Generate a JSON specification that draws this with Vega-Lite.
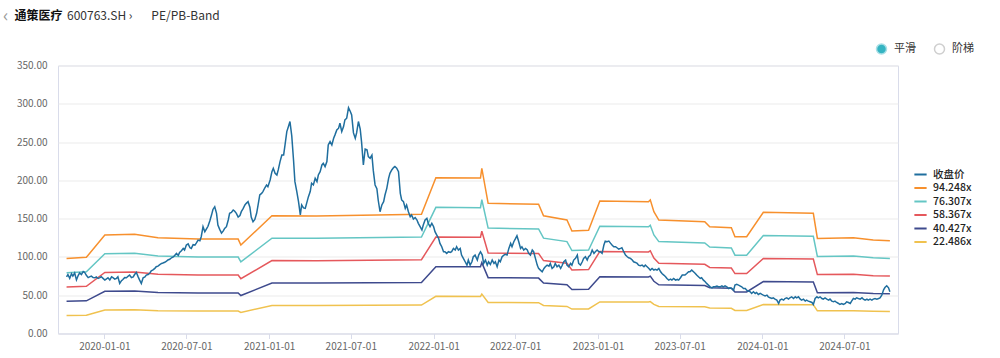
{
"$schema":"https://vega.github.io/schema/vega-lite/v6.json",
"width":840,"height":268,
"autosize":{"type":"none"},
"padding":{"left":58,"top":65.5,"right":102,"bottom":24.5},
"background":"white",
"config":{"font":"Noto Sans CJK SC","view":{"stroke":"#d9dcea","strokeWidth":1}},
"title":{"text":"‹","anchor":"start","frame":"group","dx":-55,"dy":26,"offset":0,"color":"#9a9a9a","fontSize":18,"fontWeight":"normal","baseline":"middle"},
"datasets":{
"bands":[
{"d":"2019-10-09","s":"94.248x","v":98.1},{"d":"2019-10-09","s":"76.307x","v":79.43},{"d":"2019-10-09","s":"58.367x","v":60.75},{"d":"2019-10-09","s":"40.427x","v":42.08},{"d":"2019-10-09","s":"22.486x","v":23.40},
{"d":"2019-11-22","s":"94.248x","v":99.5},{"d":"2019-11-22","s":"76.307x","v":80.56},{"d":"2019-11-22","s":"58.367x","v":61.62},{"d":"2019-11-22","s":"40.427x","v":42.68},{"d":"2019-11-22","s":"22.486x","v":23.74},
{"d":"2020-01-02","s":"94.248x","v":128.6},{"d":"2020-01-02","s":"76.307x","v":104.12},{"d":"2020-01-02","s":"58.367x","v":79.64},{"d":"2020-01-02","s":"40.427x","v":55.16},{"d":"2020-01-02","s":"22.486x","v":30.68},
{"d":"2020-03-08","s":"94.248x","v":129.5},{"d":"2020-03-08","s":"76.307x","v":104.85},{"d":"2020-03-08","s":"58.367x","v":80.20},{"d":"2020-03-08","s":"40.427x","v":55.55},{"d":"2020-03-08","s":"22.486x","v":30.90},
{"d":"2020-04-29","s":"94.248x","v":125.0},{"d":"2020-04-29","s":"76.307x","v":101.21},{"d":"2020-04-29","s":"58.367x","v":77.41},{"d":"2020-04-29","s":"40.427x","v":53.62},{"d":"2020-04-29","s":"22.486x","v":29.82},
{"d":"2020-07-27","s":"94.248x","v":123.5},{"d":"2020-07-27","s":"76.307x","v":99.99},{"d":"2020-07-27","s":"58.367x","v":76.48},{"d":"2020-07-27","s":"40.427x","v":52.97},{"d":"2020-07-27","s":"22.486x","v":29.46},
{"d":"2020-10-24","s":"94.248x","v":123.3},{"d":"2020-10-24","s":"76.307x","v":99.83},{"d":"2020-10-24","s":"58.367x","v":76.36},{"d":"2020-10-24","s":"40.427x","v":52.89},{"d":"2020-10-24","s":"22.486x","v":29.42},
{"d":"2020-10-30","s":"94.248x","v":115.5},{"d":"2020-10-30","s":"76.307x","v":93.51},{"d":"2020-10-30","s":"58.367x","v":71.53},{"d":"2020-10-30","s":"40.427x","v":49.54},{"d":"2020-10-30","s":"22.486x","v":27.56},
{"d":"2021-01-07","s":"94.248x","v":153.8},{"d":"2021-01-07","s":"76.307x","v":124.52},{"d":"2021-01-07","s":"58.367x","v":95.25},{"d":"2021-01-07","s":"40.427x","v":65.97},{"d":"2021-01-07","s":"22.486x","v":36.69},
{"d":"2021-04-16","s":"94.248x","v":153.5},{"d":"2021-04-16","s":"76.307x","v":124.28},{"d":"2021-04-16","s":"58.367x","v":95.06},{"d":"2021-04-16","s":"40.427x","v":65.84},{"d":"2021-04-16","s":"22.486x","v":36.62},
{"d":"2021-12-05","s":"94.248x","v":155.6},{"d":"2021-12-05","s":"76.307x","v":125.98},{"d":"2021-12-05","s":"58.367x","v":96.36},{"d":"2021-12-05","s":"40.427x","v":66.74},{"d":"2021-12-05","s":"22.486x","v":37.12},
{"d":"2022-01-06","s":"94.248x","v":203.5},{"d":"2022-01-06","s":"76.307x","v":164.76},{"d":"2022-01-06","s":"58.367x","v":126.03},{"d":"2022-01-06","s":"40.427x","v":87.29},{"d":"2022-01-06","s":"22.486x","v":48.55},
{"d":"2022-04-15","s":"94.248x","v":203.0},{"d":"2022-04-15","s":"76.307x","v":164.36},{"d":"2022-04-15","s":"58.367x","v":125.72},{"d":"2022-04-15","s":"40.427x","v":87.07},{"d":"2022-04-15","s":"22.486x","v":48.43},
{"d":"2022-04-18","s":"94.248x","v":215.8},{"d":"2022-04-18","s":"76.307x","v":174.72},{"d":"2022-04-18","s":"58.367x","v":133.64},{"d":"2022-04-18","s":"40.427x","v":92.57},{"d":"2022-04-18","s":"22.486x","v":51.49},
{"d":"2022-05-02","s":"94.248x","v":170.0},{"d":"2022-05-02","s":"76.307x","v":137.64},{"d":"2022-05-02","s":"58.367x","v":105.28},{"d":"2022-05-02","s":"40.427x","v":72.92},{"d":"2022-05-02","s":"22.486x","v":40.56},
{"d":"2022-08-22","s":"94.248x","v":168.7},{"d":"2022-08-22","s":"76.307x","v":136.59},{"d":"2022-08-22","s":"58.367x","v":104.47},{"d":"2022-08-22","s":"40.427x","v":72.36},{"d":"2022-08-22","s":"22.486x","v":40.25},
{"d":"2022-09-02","s":"94.248x","v":153.8},{"d":"2022-09-02","s":"76.307x","v":124.52},{"d":"2022-09-02","s":"58.367x","v":95.25},{"d":"2022-09-02","s":"40.427x","v":65.97},{"d":"2022-09-02","s":"22.486x","v":36.69},
{"d":"2022-10-24","s":"94.248x","v":148.2},{"d":"2022-10-24","s":"76.307x","v":119.99},{"d":"2022-10-24","s":"58.367x","v":91.78},{"d":"2022-10-24","s":"40.427x","v":63.57},{"d":"2022-10-24","s":"22.486x","v":35.36},
{"d":"2022-11-04","s":"94.248x","v":133.8},{"d":"2022-11-04","s":"76.307x","v":108.33},{"d":"2022-11-04","s":"58.367x","v":82.86},{"d":"2022-11-04","s":"40.427x","v":57.39},{"d":"2022-11-04","s":"22.486x","v":31.92},
{"d":"2022-12-11","s":"94.248x","v":134.7},{"d":"2022-12-11","s":"76.307x","v":109.06},{"d":"2022-12-11","s":"58.367x","v":83.42},{"d":"2022-12-11","s":"40.427x","v":57.78},{"d":"2022-12-11","s":"22.486x","v":32.14},
{"d":"2023-01-05","s":"94.248x","v":173.0},{"d":"2023-01-05","s":"76.307x","v":140.07},{"d":"2023-01-05","s":"58.367x","v":107.14},{"d":"2023-01-05","s":"40.427x","v":74.21},{"d":"2023-01-05","s":"22.486x","v":41.27},
{"d":"2023-04-23","s":"94.248x","v":172.1},{"d":"2023-04-23","s":"76.307x","v":139.34},{"d":"2023-04-23","s":"58.367x","v":106.58},{"d":"2023-04-23","s":"40.427x","v":73.82},{"d":"2023-04-23","s":"22.486x","v":41.06},
{"d":"2023-04-27","s":"94.248x","v":174.5},{"d":"2023-04-27","s":"76.307x","v":141.28},{"d":"2023-04-27","s":"58.367x","v":108.07},{"d":"2023-04-27","s":"40.427x","v":74.85},{"d":"2023-04-27","s":"22.486x","v":41.63},
{"d":"2023-05-05","s":"94.248x","v":159.0},{"d":"2023-05-05","s":"76.307x","v":128.73},{"d":"2023-05-05","s":"58.367x","v":98.47},{"d":"2023-05-05","s":"40.427x","v":68.20},{"d":"2023-05-05","s":"22.486x","v":37.93},
{"d":"2023-05-16","s":"94.248x","v":148.2},{"d":"2023-05-16","s":"76.307x","v":119.99},{"d":"2023-05-16","s":"58.367x","v":91.78},{"d":"2023-05-16","s":"40.427x","v":63.57},{"d":"2023-05-16","s":"22.486x","v":35.36},
{"d":"2023-08-26","s":"94.248x","v":146.0},{"d":"2023-08-26","s":"76.307x","v":118.21},{"d":"2023-08-26","s":"58.367x","v":90.42},{"d":"2023-08-26","s":"40.427x","v":62.63},{"d":"2023-08-26","s":"22.486x","v":34.83},
{"d":"2023-09-06","s":"94.248x","v":139.4},{"d":"2023-09-06","s":"76.307x","v":112.86},{"d":"2023-09-06","s":"58.367x","v":86.33},{"d":"2023-09-06","s":"40.427x","v":59.79},{"d":"2023-09-06","s":"22.486x","v":33.26},
{"d":"2023-10-24","s":"94.248x","v":138.1},{"d":"2023-10-24","s":"76.307x","v":111.81},{"d":"2023-10-24","s":"58.367x","v":85.52},{"d":"2023-10-24","s":"40.427x","v":59.24},{"d":"2023-10-24","s":"22.486x","v":32.95},
{"d":"2023-11-01","s":"94.248x","v":126.4},{"d":"2023-11-01","s":"76.307x","v":102.34},{"d":"2023-11-01","s":"58.367x","v":78.28},{"d":"2023-11-01","s":"40.427x","v":54.22},{"d":"2023-11-01","s":"22.486x","v":30.16},
{"d":"2023-11-27","s":"94.248x","v":126.4},{"d":"2023-11-27","s":"76.307x","v":102.34},{"d":"2023-11-27","s":"58.367x","v":78.28},{"d":"2023-11-27","s":"40.427x","v":54.22},{"d":"2023-11-27","s":"22.486x","v":30.16},
{"d":"2024-01-03","s":"94.248x","v":158.2},{"d":"2024-01-03","s":"76.307x","v":128.09},{"d":"2024-01-03","s":"58.367x","v":97.97},{"d":"2024-01-03","s":"40.427x","v":67.86},{"d":"2024-01-03","s":"22.486x","v":37.74},
{"d":"2024-04-23","s":"94.248x","v":156.9},{"d":"2024-04-23","s":"76.307x","v":127.03},{"d":"2024-04-23","s":"58.367x","v":97.17},{"d":"2024-04-23","s":"40.427x","v":67.30},{"d":"2024-04-23","s":"22.486x","v":37.43},
{"d":"2024-05-02","s":"94.248x","v":124.2},{"d":"2024-05-02","s":"76.307x","v":100.56},{"d":"2024-05-02","s":"58.367x","v":76.92},{"d":"2024-05-02","s":"40.427x","v":53.27},{"d":"2024-05-02","s":"22.486x","v":29.63},
{"d":"2024-07-21","s":"94.248x","v":125.0},{"d":"2024-07-21","s":"76.307x","v":101.21},{"d":"2024-07-21","s":"58.367x","v":77.41},{"d":"2024-07-21","s":"40.427x","v":53.62},{"d":"2024-07-21","s":"22.486x","v":29.82},
{"d":"2024-09-03","s":"94.248x","v":122.0},{"d":"2024-09-03","s":"76.307x","v":98.78},{"d":"2024-09-03","s":"58.367x","v":75.55},{"d":"2024-09-03","s":"40.427x","v":52.33},{"d":"2024-09-03","s":"22.486x","v":29.11},
{"d":"2024-10-10","s":"94.248x","v":121.1},{"d":"2024-10-10","s":"76.307x","v":98.05},{"d":"2024-10-10","s":"58.367x","v":75.00},{"d":"2024-10-10","s":"40.427x","v":51.94},{"d":"2024-10-10","s":"22.486x","v":28.89}
],
"price":[
{"d":"2019-10-09","v":74},{"d":"2019-10-12","v":77},{"d":"2019-10-16","v":72},{"d":"2019-10-20","v":78},{"d":"2019-10-23","v":75},{"d":"2019-10-27","v":79},{"d":"2019-10-31","v":70},{"d":"2019-11-04","v":76},{"d":"2019-11-07","v":79},{"d":"2019-11-11","v":77},{"d":"2019-11-15","v":81},{"d":"2019-11-18","v":80},{"d":"2019-11-22","v":76},{"d":"2019-11-26","v":73},{"d":"2019-11-29","v":74},{"d":"2019-12-03","v":75},{"d":"2019-12-07","v":73},{"d":"2019-12-11","v":72.8},{"d":"2019-12-14","v":74},{"d":"2019-12-18","v":71.9},{"d":"2019-12-22","v":73},{"d":"2019-12-25","v":74.1},{"d":"2019-12-29","v":72},
{"d":"2020-01-02","v":69.7},{"d":"2020-01-05","v":71},{"d":"2020-01-09","v":72.8},{"d":"2020-01-13","v":70},{"d":"2020-01-17","v":74},{"d":"2020-01-20","v":73},{"d":"2020-01-24","v":71},{"d":"2020-01-28","v":72},{"d":"2020-01-31","v":74},{"d":"2020-02-04","v":65.4},{"d":"2020-02-08","v":69},{"d":"2020-02-11","v":70.6},{"d":"2020-02-15","v":73},{"d":"2020-02-19","v":72.8},{"d":"2020-02-23","v":75},{"d":"2020-02-26","v":76.3},{"d":"2020-03-01","v":73},{"d":"2020-03-05","v":74},{"d":"2020-03-08","v":77},{"d":"2020-03-12","v":79.8},{"d":"2020-03-16","v":74},{"d":"2020-03-19","v":70},{"d":"2020-03-23","v":65.4},{"d":"2020-03-27","v":72.8},{"d":"2020-03-31","v":74},{"d":"2020-04-03","v":76.3},{"d":"2020-04-07","v":77},{"d":"2020-04-11","v":79},{"d":"2020-04-14","v":81.9},{"d":"2020-04-18","v":83},{"d":"2020-04-22","v":85},{"d":"2020-04-25","v":87.2},{"d":"2020-04-29","v":88},{"d":"2020-05-03","v":90},{"d":"2020-05-07","v":91.5},{"d":"2020-05-10","v":92},{"d":"2020-05-14","v":93},{"d":"2020-05-18","v":94.6},{"d":"2020-05-21","v":96},{"d":"2020-05-25","v":97},{"d":"2020-05-29","v":98.9},{"d":"2020-06-02","v":100},{"d":"2020-06-05","v":102},{"d":"2020-06-09","v":104.6},{"d":"2020-06-13","v":102},{"d":"2020-06-16","v":105.9},{"d":"2020-06-20","v":108},{"d":"2020-06-24","v":111.1},{"d":"2020-06-27","v":109},{"d":"2020-07-01","v":115.5},{"d":"2020-07-05","v":117},{"d":"2020-07-09","v":112},{"d":"2020-07-12","v":111.1},{"d":"2020-07-16","v":116},{"d":"2020-07-20","v":115.5},{"d":"2020-07-23","v":118},{"d":"2020-07-27","v":122},{"d":"2020-07-31","v":121},{"d":"2020-08-03","v":126.4},{"d":"2020-08-07","v":139.5},{"d":"2020-08-11","v":133},{"d":"2020-08-15","v":137},{"d":"2020-08-18","v":140},{"d":"2020-08-22","v":146.9},{"d":"2020-08-26","v":155},{"d":"2020-08-29","v":162},{"d":"2020-09-02","v":165.6},{"d":"2020-09-06","v":156.9},{"d":"2020-09-09","v":141.7},{"d":"2020-09-13","v":136},{"d":"2020-09-17","v":131},{"d":"2020-09-21","v":134},{"d":"2020-09-24","v":137.3},{"d":"2020-09-28","v":139.5},{"d":"2020-10-02","v":148.2},{"d":"2020-10-05","v":156.9},{"d":"2020-10-09","v":158},{"d":"2020-10-13","v":161.3},{"d":"2020-10-16","v":160},{"d":"2020-10-20","v":156.9},{"d":"2020-10-24","v":152},{"d":"2020-10-28","v":154},{"d":"2020-10-31","v":159.1},{"d":"2020-11-04","v":163},{"d":"2020-11-08","v":167.8},{"d":"2020-11-11","v":170},{"d":"2020-11-15","v":172.2},{"d":"2020-11-19","v":165},{"d":"2020-11-22","v":152},{"d":"2020-11-26","v":146},{"d":"2020-11-30","v":149},{"d":"2020-12-04","v":157},{"d":"2020-12-07","v":167},{"d":"2020-12-11","v":180.9},{"d":"2020-12-15","v":183},{"d":"2020-12-18","v":185.3},{"d":"2020-12-22","v":190},{"d":"2020-12-26","v":194},{"d":"2020-12-29","v":191.8},
{"d":"2021-01-03","v":200.5},{"d":"2021-01-07","v":211.4},{"d":"2021-01-10","v":215.8},{"d":"2021-01-14","v":209.2},{"d":"2021-01-18","v":207},{"d":"2021-01-21","v":213.6},{"d":"2021-01-25","v":224.5},{"d":"2021-01-29","v":233.2},{"d":"2021-02-02","v":233.2},{"d":"2021-02-05","v":246},{"d":"2021-02-09","v":263.7},{"d":"2021-02-13","v":271},{"d":"2021-02-16","v":276.8},{"d":"2021-02-20","v":258},{"d":"2021-02-24","v":226},{"d":"2021-02-27","v":198.3},{"d":"2021-03-03","v":186},{"d":"2021-03-07","v":172.2},{"d":"2021-03-11","v":155},{"d":"2021-03-14","v":167.8},{"d":"2021-03-18","v":164},{"d":"2021-03-22","v":163.5},{"d":"2021-03-25","v":170},{"d":"2021-03-29","v":178.7},{"d":"2021-04-02","v":185.3},{"d":"2021-04-05","v":196.2},{"d":"2021-04-09","v":194},{"d":"2021-04-13","v":202.7},{"d":"2021-04-17","v":198.3},{"d":"2021-04-20","v":207},{"d":"2021-04-24","v":211.4},{"d":"2021-04-28","v":220.1},{"d":"2021-05-01","v":222.3},{"d":"2021-05-05","v":218},{"d":"2021-05-09","v":224.5},{"d":"2021-05-12","v":246.3},{"d":"2021-05-16","v":250.7},{"d":"2021-05-20","v":246.3},{"d":"2021-05-24","v":255},{"d":"2021-05-27","v":259.4},{"d":"2021-05-31","v":265.9},{"d":"2021-06-04","v":268.1},{"d":"2021-06-07","v":274.6},{"d":"2021-06-11","v":263.7},{"d":"2021-06-15","v":270.3},{"d":"2021-06-18","v":279},{"d":"2021-06-22","v":281.2},{"d":"2021-06-26","v":295},{"d":"2021-06-30","v":290},{"d":"2021-07-03","v":285.5},{"d":"2021-07-07","v":262},{"d":"2021-07-11","v":255},{"d":"2021-07-14","v":262},{"d":"2021-07-18","v":276.8},{"d":"2021-07-22","v":267},{"d":"2021-07-25","v":250},{"d":"2021-07-29","v":220.1},{"d":"2021-08-02","v":241},{"d":"2021-08-06","v":240},{"d":"2021-08-09","v":231},{"d":"2021-08-13","v":228.9},{"d":"2021-08-17","v":233},{"d":"2021-08-20","v":213},{"d":"2021-08-24","v":194},{"d":"2021-08-28","v":189},{"d":"2021-08-31","v":174},{"d":"2021-09-04","v":159},{"d":"2021-09-08","v":167.8},{"d":"2021-09-12","v":172.2},{"d":"2021-09-15","v":180.9},{"d":"2021-09-19","v":189.6},{"d":"2021-09-23","v":202.7},{"d":"2021-09-26","v":209.2},{"d":"2021-09-30","v":213.6},{"d":"2021-10-04","v":216.7},{"d":"2021-10-07","v":218},{"d":"2021-10-11","v":215.8},{"d":"2021-10-15","v":211.4},{"d":"2021-10-19","v":183},{"d":"2021-10-22","v":174.4},{"d":"2021-10-26","v":172.2},{"d":"2021-10-30","v":163.5},{"d":"2021-11-02","v":167.8},{"d":"2021-11-06","v":159.1},{"d":"2021-11-10","v":152.6},{"d":"2021-11-13","v":154.8},{"d":"2021-11-17","v":149.5},{"d":"2021-11-21","v":151.3},{"d":"2021-11-25","v":148.2},{"d":"2021-11-28","v":143.9},{"d":"2021-12-02","v":139.5},{"d":"2021-12-06","v":135.1},{"d":"2021-12-09","v":141.7},{"d":"2021-12-13","v":148.2},{"d":"2021-12-17","v":150.4},{"d":"2021-12-20","v":143.9},{"d":"2021-12-24","v":139.5},{"d":"2021-12-28","v":143.9},
{"d":"2022-01-01","v":139.5},{"d":"2022-01-04","v":133},{"d":"2022-01-08","v":128.6},{"d":"2022-01-12","v":124.2},{"d":"2022-01-15","v":117.7},{"d":"2022-01-19","v":113.3},{"d":"2022-01-23","v":106.8},{"d":"2022-01-26","v":106.8},{"d":"2022-01-30","v":104.6},{"d":"2022-02-03","v":106.8},{"d":"2022-02-07","v":105.9},{"d":"2022-02-10","v":106.8},{"d":"2022-02-14","v":111.1},{"d":"2022-02-18","v":109},{"d":"2022-02-21","v":113.3},{"d":"2022-02-25","v":109},{"d":"2022-03-01","v":111.1},{"d":"2022-03-04","v":102.4},{"d":"2022-03-08","v":98.1},{"d":"2022-03-12","v":93.7},{"d":"2022-03-16","v":89.3},{"d":"2022-03-19","v":95.9},{"d":"2022-03-23","v":89.3},{"d":"2022-03-27","v":93.7},{"d":"2022-03-30","v":100.2},{"d":"2022-04-03","v":102.4},{"d":"2022-04-08","v":95.9},{"d":"2022-04-11","v":102.4},{"d":"2022-04-15","v":106.8},{"d":"2022-04-19","v":102.4},{"d":"2022-04-22","v":91.5},{"d":"2022-04-26","v":95.9},{"d":"2022-04-30","v":89.3},{"d":"2022-05-03","v":93.7},{"d":"2022-05-07","v":90.2},{"d":"2022-05-11","v":95.9},{"d":"2022-05-15","v":91.5},{"d":"2022-05-18","v":93.7},{"d":"2022-05-22","v":87.2},{"d":"2022-05-26","v":95.9},{"d":"2022-05-29","v":93.7},{"d":"2022-06-02","v":100.2},{"d":"2022-06-06","v":102.4},{"d":"2022-06-09","v":103.3},{"d":"2022-06-13","v":102.4},{"d":"2022-06-17","v":111.1},{"d":"2022-06-21","v":117.7},{"d":"2022-06-24","v":113.3},{"d":"2022-06-28","v":119.9},{"d":"2022-07-02","v":124.2},{"d":"2022-07-05","v":127.7},{"d":"2022-07-09","v":119.9},{"d":"2022-07-13","v":111.1},{"d":"2022-07-16","v":113.3},{"d":"2022-07-20","v":109},{"d":"2022-07-24","v":111.1},{"d":"2022-07-28","v":109},{"d":"2022-07-31","v":104.6},{"d":"2022-08-04","v":102.4},{"d":"2022-08-08","v":109},{"d":"2022-08-11","v":106.8},{"d":"2022-08-15","v":98.1},{"d":"2022-08-19","v":89.3},{"d":"2022-08-22","v":85},{"d":"2022-08-26","v":82.8},{"d":"2022-08-30","v":80.6},{"d":"2022-09-03","v":85},{"d":"2022-09-06","v":87.2},{"d":"2022-09-10","v":89.3},{"d":"2022-09-14","v":88},{"d":"2022-09-17","v":91.5},{"d":"2022-09-21","v":85},{"d":"2022-09-25","v":87.2},{"d":"2022-09-28","v":91.5},{"d":"2022-10-02","v":87.2},{"d":"2022-10-06","v":89.3},{"d":"2022-10-10","v":85},{"d":"2022-10-13","v":88.5},{"d":"2022-10-17","v":93.7},{"d":"2022-10-21","v":95.9},{"d":"2022-10-24","v":89.3},{"d":"2022-10-28","v":87.2},{"d":"2022-11-01","v":91.5},{"d":"2022-11-04","v":89.3},{"d":"2022-11-08","v":95.9},{"d":"2022-11-12","v":98.1},{"d":"2022-11-16","v":102.4},{"d":"2022-11-19","v":91.5},{"d":"2022-11-23","v":89.3},{"d":"2022-11-27","v":93.7},{"d":"2022-11-30","v":98.1},{"d":"2022-12-04","v":100.2},{"d":"2022-12-08","v":95.9},{"d":"2022-12-11","v":100.2},{"d":"2022-12-15","v":102.4},{"d":"2022-12-19","v":109},{"d":"2022-12-23","v":104.6},{"d":"2022-12-26","v":106.8},{"d":"2022-12-30","v":109},
{"d":"2023-01-03","v":106.8},{"d":"2023-01-06","v":106.8},{"d":"2023-01-10","v":104.6},{"d":"2023-01-14","v":115.5},{"d":"2023-01-17","v":120.7},{"d":"2023-01-21","v":119.9},{"d":"2023-01-25","v":120.7},{"d":"2023-01-29","v":117.7},{"d":"2023-02-01","v":115.5},{"d":"2023-02-05","v":113.3},{"d":"2023-02-09","v":113.3},{"d":"2023-02-12","v":112},{"d":"2023-02-16","v":110.3},{"d":"2023-02-20","v":111.1},{"d":"2023-02-23","v":112},{"d":"2023-02-27","v":106.8},{"d":"2023-03-03","v":102.4},{"d":"2023-03-07","v":100.2},{"d":"2023-03-10","v":98.9},{"d":"2023-03-14","v":98.1},{"d":"2023-03-18","v":95.9},{"d":"2023-03-21","v":93.7},{"d":"2023-03-25","v":92.8},{"d":"2023-03-29","v":91.5},{"d":"2023-04-01","v":89.3},{"d":"2023-04-05","v":88.5},{"d":"2023-04-09","v":89.3},{"d":"2023-04-13","v":87.2},{"d":"2023-04-16","v":89.3},{"d":"2023-04-20","v":87.2},{"d":"2023-04-24","v":85},{"d":"2023-04-27","v":82.8},{"d":"2023-05-01","v":85},{"d":"2023-05-05","v":82.8},{"d":"2023-05-08","v":83.7},{"d":"2023-05-12","v":82.8},{"d":"2023-05-16","v":85},{"d":"2023-05-20","v":80.6},{"d":"2023-05-23","v":78.4},{"d":"2023-05-27","v":76.3},{"d":"2023-05-31","v":74.1},{"d":"2023-06-03","v":71.9},{"d":"2023-06-07","v":69.7},{"d":"2023-06-11","v":71},{"d":"2023-06-14","v":69.7},{"d":"2023-06-18","v":71.9},{"d":"2023-06-22","v":69.7},{"d":"2023-06-26","v":70.6},{"d":"2023-06-29","v":69.7},{"d":"2023-07-03","v":72.8},{"d":"2023-07-07","v":76.3},{"d":"2023-07-10","v":76.3},{"d":"2023-07-13","v":76.3},{"d":"2023-07-17","v":78.4},{"d":"2023-07-21","v":80.6},{"d":"2023-07-24","v":80.6},{"d":"2023-07-28","v":82.8},{"d":"2023-08-01","v":80.6},{"d":"2023-08-05","v":78.4},{"d":"2023-08-08","v":76.3},{"d":"2023-08-12","v":74.1},{"d":"2023-08-16","v":71.9},{"d":"2023-08-19","v":72.8},{"d":"2023-08-23","v":69.7},{"d":"2023-08-27","v":67.5},{"d":"2023-08-30","v":65.4},{"d":"2023-09-03","v":63.2},{"d":"2023-09-07","v":61},{"d":"2023-09-11","v":59.7},{"d":"2023-09-14","v":61},{"d":"2023-09-18","v":61},{"d":"2023-09-22","v":61.9},{"d":"2023-09-25","v":61},{"d":"2023-09-29","v":61},{"d":"2023-10-03","v":62.3},{"d":"2023-10-06","v":61},{"d":"2023-10-10","v":62.3},{"d":"2023-10-14","v":61},{"d":"2023-10-18","v":58.8},{"d":"2023-10-21","v":59.7},{"d":"2023-10-25","v":58.8},{"d":"2023-10-29","v":56.6},{"d":"2023-11-01","v":63.2},{"d":"2023-11-05","v":64.1},{"d":"2023-11-09","v":63.2},{"d":"2023-11-12","v":62.3},{"d":"2023-11-16","v":61},{"d":"2023-11-20","v":58.8},{"d":"2023-11-24","v":58.8},{"d":"2023-11-27","v":56.6},{"d":"2023-12-01","v":55.3},{"d":"2023-12-05","v":54.5},{"d":"2023-12-08","v":52.3},{"d":"2023-12-12","v":54.5},{"d":"2023-12-16","v":52.3},{"d":"2023-12-19","v":53.6},{"d":"2023-12-23","v":51},{"d":"2023-12-27","v":52.3},{"d":"2023-12-31","v":51},
{"d":"2024-01-03","v":50.1},{"d":"2024-01-07","v":49.2},{"d":"2024-01-11","v":50.1},{"d":"2024-01-14","v":47.9},{"d":"2024-01-18","v":46.6},{"d":"2024-01-22","v":45.7},{"d":"2024-01-25","v":46.6},{"d":"2024-01-29","v":44.9},{"d":"2024-02-02","v":43.6},{"d":"2024-02-06","v":39.2},{"d":"2024-02-09","v":43.6},{"d":"2024-02-13","v":44.9},{"d":"2024-02-17","v":43.6},{"d":"2024-02-20","v":45.7},{"d":"2024-02-24","v":46.6},{"d":"2024-02-28","v":44.9},{"d":"2024-03-02","v":46.6},{"d":"2024-03-06","v":47.9},{"d":"2024-03-10","v":45.7},{"d":"2024-03-14","v":47.9},{"d":"2024-03-17","v":46.6},{"d":"2024-03-21","v":47.9},{"d":"2024-03-25","v":44.9},{"d":"2024-03-28","v":43.6},{"d":"2024-04-01","v":44.9},{"d":"2024-04-05","v":42.3},{"d":"2024-04-08","v":43.6},{"d":"2024-04-12","v":42.3},{"d":"2024-04-16","v":41.4},{"d":"2024-04-20","v":40.5},{"d":"2024-04-23","v":37.9},{"d":"2024-04-27","v":45.7},{"d":"2024-05-01","v":47.9},{"d":"2024-05-04","v":46.6},{"d":"2024-05-08","v":47.9},{"d":"2024-05-12","v":45.7},{"d":"2024-05-15","v":44.9},{"d":"2024-05-19","v":46.6},{"d":"2024-05-23","v":44.9},{"d":"2024-05-27","v":43.6},{"d":"2024-05-30","v":44.9},{"d":"2024-06-03","v":42.3},{"d":"2024-06-07","v":41.4},{"d":"2024-06-10","v":42.3},{"d":"2024-06-14","v":40.5},{"d":"2024-06-18","v":39.2},{"d":"2024-06-21","v":37.9},{"d":"2024-06-25","v":39.2},{"d":"2024-06-29","v":37.9},{"d":"2024-07-03","v":39.2},{"d":"2024-07-06","v":41.4},{"d":"2024-07-10","v":40.5},{"d":"2024-07-14","v":39.2},{"d":"2024-07-17","v":42.3},{"d":"2024-07-21","v":45.7},{"d":"2024-07-25","v":44.9},{"d":"2024-07-28","v":46.6},{"d":"2024-08-01","v":45.7},{"d":"2024-08-05","v":44.9},{"d":"2024-08-09","v":46.6},{"d":"2024-08-12","v":44.9},{"d":"2024-08-16","v":43.6},{"d":"2024-08-20","v":44.9},{"d":"2024-08-23","v":43.6},{"d":"2024-08-27","v":44.9},{"d":"2024-08-31","v":43.6},{"d":"2024-09-03","v":44.9},{"d":"2024-09-07","v":45.7},{"d":"2024-09-11","v":44.9},{"d":"2024-09-15","v":45.7},{"d":"2024-09-18","v":46.6},{"d":"2024-09-22","v":50.1},{"d":"2024-09-26","v":57},{"d":"2024-09-29","v":60},{"d":"2024-10-03","v":62.3},{"d":"2024-10-07","v":59.7},{"d":"2024-10-10","v":54.5}
],
"modes":[{"m":"平滑"},{"m":"阶梯"}]
},
"encoding":{
"x":{"field":"d","type":"temporal",
 "scale":{"type":"utc","domain":[{"year":2019,"month":9,"date":20,"utc":true},{"year":2024,"month":10,"date":28,"utc":true}]},
 "axis":{"title":"600763.SH\u00a0›\u00a0\u00a0\u00a0\u00a0\u00a0\u00a0\u00a0PE/PB-Band","titleX":8.5,"titleY":-318.5,"titleAlign":"left","titleBaseline":"middle","titleFontSize":12,"titleFontWeight":"normal","titleColor":"#333",
  "values":[{"year":2020,"month":1,"date":1,"utc":true},{"year":2020,"month":7,"date":1,"utc":true},{"year":2021,"month":1,"date":1,"utc":true},{"year":2021,"month":7,"date":1,"utc":true},{"year":2022,"month":1,"date":1,"utc":true},{"year":2022,"month":7,"date":1,"utc":true},{"year":2023,"month":1,"date":1,"utc":true},{"year":2023,"month":7,"date":1,"utc":true},{"year":2024,"month":1,"date":1,"utc":true},{"year":2024,"month":7,"date":1,"utc":true}],
  "format":"%Y-%m-%d","labelColor":"#666","labelFontSize":10,"labelPadding":3,"tickSize":5,"tickColor":"#d9dcea","domainColor":"#d9dcea","grid":false,"labelOverlap":false,"labelFlush":false}},
"y":{"field":"v","type":"quantitative",
 "scale":{"domain":[0,350],"nice":false},
 "axis":{"title":"通策医疗","titleAngle":0,"titleX":-44,"titleY":-50.5,"titleAlign":"left","titleBaseline":"middle","titleFontSize":12,"titleFontWeight":"bold","titleColor":"#111",
  "values":[0,50,100,150,200,250,300,350],"format":".2f","domain":false,"ticks":false,"labelPadding":11,"labelColor":"#666","labelFontSize":10,"grid":true,"gridColor":"#ebebeb"}}
},
"layer":[
{"data":{"name":"bands"},
 "mark":{"type":"line","strokeWidth":1.5},
 "encoding":{"detail":{"field":"s","type":"nominal"},
  "color":{"field":"s","type":"nominal",
   "scale":{"domain":["收盘价","94.248x","76.307x","58.367x","40.427x","22.486x"],"range":["#1f6e9e","#f7902d","#64c6c4","#e5585c","#3e4a8d","#f0c24f"]},
   "legend":{"orient":"none","legendX":855,"legendY":101.5,"title":null,"symbolType":"stroke","symbolStrokeWidth":2,"symbolSize":150,"labelFontSize":10.5,"labelColor":"#222","labelFontWeight":500,"rowPadding":0.5,"labelOffset":5,"padding":0}}}},
{"data":{"name":"price"},
 "mark":{"type":"line","strokeWidth":1.5},
 "encoding":{
  "color":{"datum":"收盘价","type":"nominal",
   "scale":{"domain":["收盘价","94.248x","76.307x","58.367x","40.427x","22.486x"],"range":["#1f6e9e","#f7902d","#64c6c4","#e5585c","#3e4a8d","#f0c24f"]},
   "legend":{"orient":"none","legendX":855,"legendY":101.5,"title":null,"symbolType":"stroke","symbolStrokeWidth":2,"symbolSize":150,"labelFontSize":10.5,"labelColor":"#222","labelFontWeight":500,"rowPadding":0.5,"labelOffset":5,"padding":0}}}},
{"data":{"name":"modes"},
 "mark":{"type":"point","filled":true,"opacity":0},
 "encoding":{
  "fill":{"field":"m","type":"nominal","scale":{"domain":["平滑","阶梯"],"range":["#35b4c2","#ffffff"]},
   "legend":{"orient":"none","legendX":817.5,"legendY":-22.5,"direction":"horizontal","title":null,"symbolType":"circle","symbolSize":100,"symbolStrokeWidth":1.5,"symbolOpacity":1,"labelFontSize":11,"labelColor":"#333","labelOffset":6.5,"columnPadding":15,"padding":0}},
  "stroke":{"field":"m","type":"nominal","scale":{"domain":["平滑","阶梯"],"range":["#a9dfe6","#cfcfcf"]},
   "legend":{"orient":"none","legendX":817.5,"legendY":-22.5,"direction":"horizontal","title":null,"symbolType":"circle","symbolSize":100,"symbolStrokeWidth":1.5,"symbolOpacity":1,"labelFontSize":11,"labelColor":"#333","labelOffset":6.5,"columnPadding":15,"padding":0}}}}
]
}
